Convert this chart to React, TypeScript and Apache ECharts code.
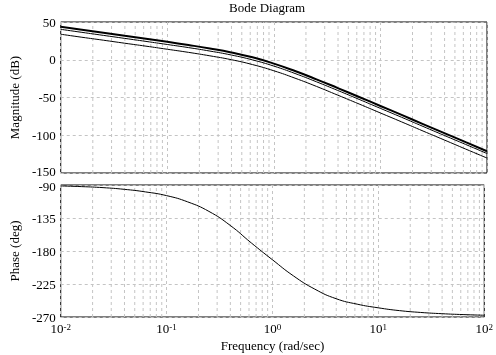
import React, { useEffect, useRef } from 'react';
import * as echarts from 'echarts';

// Frequencies (rad/sec) at which the curves were read (0.2-decade steps)
const freq = [0.01, 0.0158, 0.0251, 0.0398, 0.0631, 0.1, 0.158, 0.251, 0.398, 0.631, 1, 1.58, 2.51, 3.98, 6.31, 10, 15.8, 25.1, 39.8, 63.1, 100];

// Magnitude (dB) of the three systems
const magA = [43.8, 39.8, 35.8, 31.8, 27.8, 23.7, 19.5, 14.9, 9.7, 3.2, -5.1, -14.9, -25.9, -37.5, -49.3, -61.2, -73.1, -85.2, -97.2, -109.2, -121.2];
const magB = [40.3, 36.3, 32.3, 28.3, 24.3, 20.2, 16.1, 11.5, 6.3, -0.2, -8.4, -18.2, -29.2, -40.7, -52.5, -64.4, -76.2, -88.3, -100.3, -112.2, -124.2];
const magC = [33.8, 29.8, 25.9, 21.9, 18.0, 13.9, 9.8, 5.2, 0.1, -6.4, -14.6, -24.4, -35.3, -46.9, -58.6, -70.5, -82.3, -94.4, -106.3, -118.3, -130.2];

// Phase (deg)
const phase = [-91.3, -92.2, -93.6, -95.9, -99.4, -104.5, -113, -126, -145, -169, -192, -214, -232, -245, -252.5, -257.5, -261.3, -263.8, -265.5, -266.7, -267.6];

// Axis ranges / ticks
const freqMin = 0.01;
const freqMax = 100;
const magMin = -150;
const magMax = 50;
const magStep = 50;
const phaseMin = -270;
const phaseMax = -90;
const phaseStep = 45;

const FONT = 'Liberation Serif';
const GRID_COLOR = '#c4c4c4';

function minorFreqLines(): number[] {
  const out: number[] = [];
  for (let d = -2; d <= 1; d++) {
    for (let k = 2; k <= 9; k++) out.push(k * Math.pow(10, d));
  }
  return out;
}

export default function App() {
  const ref = useRef<HTMLDivElement>(null);
  useEffect(() => {
    if (!ref.current) return;
    const chart = echarts.init(ref.current, undefined, { renderer: 'svg' });
    const minor = minorFreqLines();
    const dash = { color: GRID_COLOR, type: [3, 3] as any, width: 1 };
    const pair = (ys: number[]) => freq.map((f, i) => [f, ys[i]]);
    const gridSeries = (idx: number, lo: number, hi: number) =>
      minor.map((v) => ({
        type: 'line',
        xAxisIndex: idx,
        yAxisIndex: idx,
        data: [[v, lo], [v, hi]],
        silent: true,
        showSymbol: false,
        z: 1,
        lineStyle: dash,
        emphasis: { disabled: true },
      }));
    const xBase = {
      type: 'log',
      logBase: 10,
      min: freqMin,
      max: freqMax,
      axisLine: { show: false },
      axisTick: { show: false },
      splitLine: { show: true, lineStyle: dash },
    };
    const labelRich = {
      n: { color: '#000', fontFamily: FONT, fontSize: 13, lineHeight: 11 },
      lo: { color: '#000', fontFamily: FONT, fontSize: 13, lineHeight: 11, padding: [0, 0, 4, 0] },
      hi: { color: '#000', fontFamily: FONT, fontSize: 13, lineHeight: 11, padding: [2, 0, 0, 0] },
    };
    const yBase = {
      type: 'value',
      axisLine: { show: false },
      axisTick: { show: false },
      splitLine: { show: true, lineStyle: dash },
      nameLocation: 'middle',
      nameRotate: 90,
      nameGap: 37,
      nameTextStyle: { color: '#000', fontFamily: FONT, fontSize: 13 },
    };
    const curve = (ys: number[], idx: number, width: number) => ({
      type: 'line',
      xAxisIndex: idx,
      yAxisIndex: idx,
      data: pair(ys),
      showSymbol: false,
      smooth: 0.5,
      silent: true,
      lineStyle: { color: '#000', width },
      z: 10,
    });
    chart.setOption({
      animation: false,
      title: {
        text: 'Bode Diagram',
        left: 229,
        top: 1,
        padding: 0,
        textStyle: { color: '#000', fontFamily: FONT, fontSize: 13, fontWeight: 'normal' },
      },
      grid: [
        { left: 56, top: 22, width: 431, height: 151, show: true, borderColor: '#000', borderWidth: 1, containLabel: false },
        { left: 56, top: 185, width: 431, height: 132, show: true, borderColor: '#000', borderWidth: 1, containLabel: false },
      ],
      xAxis: [
        { ...xBase, gridIndex: 0, axisLabel: { show: false } },
        {
          ...xBase,
          gridIndex: 1,
          name: 'Frequency (rad/sec)',
          nameLocation: 'middle',
          nameGap: 22,
          nameTextStyle: { color: '#000', fontFamily: FONT, fontSize: 13 },
          axisLabel: {
            margin: 5,
            formatter: (v: number) => `{b|10}{s|${Math.round(Math.log10(v))}}`,
            rich: {
              b: { color: '#000', fontFamily: FONT, fontSize: 13 },
              s: { color: '#000', fontFamily: FONT, fontSize: 9, verticalAlign: 'top' },
            },
          },
        },
      ],
      yAxis: [
        {
          ...yBase,
          gridIndex: 0,
          min: magMin,
          max: magMax,
          interval: magStep,
          name: 'Magnitude (dB)',
          axisLabel: {
            margin: 5,
            formatter: (v: number) => (v === magMin ? `{lo|${v}}` : `{n|${v}}`),
            rich: labelRich,
          },
        },
        {
          ...yBase,
          gridIndex: 1,
          min: phaseMin,
          max: phaseMax,
          interval: phaseStep,
          name: 'Phase (deg)',
          axisLabel: {
            margin: 5,
            formatter: (v: number) => (v === phaseMax ? `{hi|${v}}` : `{n|${v}}`),
            rich: labelRich,
          },
        },
      ],
      series: [
        ...gridSeries(0, magMin, magMax),
        ...gridSeries(1, phaseMin, phaseMax),
        curve(magC, 0, 1),
        curve(magB, 0, 1),
        curve(magA, 0, 2),
        curve(phase, 1, 1),
      ],
    });
    return () => chart.dispose();
  }, []);
  return <div ref={ref} style={{ position: 'fixed', left: 0, top: 0, width: 496, height: 355 }} />;
}
